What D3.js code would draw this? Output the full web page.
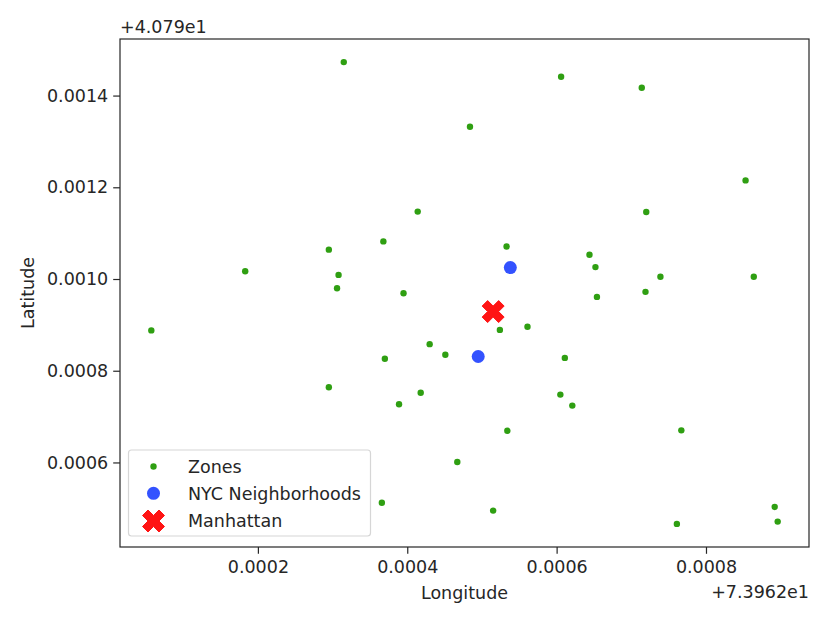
<!DOCTYPE html>
<html>
<head>
<meta charset="utf-8">
<script src="https://cdn.jsdelivr.net/npm/d3@7"></script>
<style>
  html, body { margin: 0; padding: 0; background: #fff; }
  svg text { font-family: "DejaVu Sans", sans-serif; fill: #262626; }
</style>
</head>
<body>
<svg id="chart" width="829" height="622"></svg>
<script>
// ---- Data (offsets from +73.962 for longitude, +40.79 for latitude) ----
const zoneLon = [0.000315, 0.000606, 0.000714, 0.000484, 0.000853, 0.000414, 0.000720, 0.000295,
  0.000368, 0.000533, 0.000183, 0.000308, 0.000644, 0.000652, 0.000306, 0.000395, 0.000739,
  0.000864, 0.000654, 0.000719, 0.0000573, 0.000524, 0.000561, 0.000430, 0.000451, 0.000370,
  0.000611, 0.000295, 0.000418, 0.000389, 0.000605, 0.000621, 0.000534, 0.000767, 0.000467,
  0.000366, 0.000515, 0.000761, 0.000892, 0.000896];
const zoneLat = [0.001473, 0.001441, 0.001417, 0.001332, 0.001215, 0.001147, 0.001146, 0.001064,
  0.001082, 0.001071, 0.001017, 0.001009, 0.001053, 0.001026, 0.000980, 0.000969, 0.001005,
  0.001005, 0.000961, 0.000972, 0.000888, 0.000889, 0.000896, 0.000858, 0.000835, 0.000826,
  0.000828, 0.000764, 0.000752, 0.000727, 0.000748, 0.000724, 0.000669, 0.000670, 0.000601,
  0.000512, 0.000495, 0.000466, 0.000503, 0.000471];
const hoodLon = [0.000538, 0.000495];
const hoodLat = [0.001025, 0.000831];
const manhattanLon = [0.000515];
const manhattanLat = [0.000929];
const xTicks = [0.0002, 0.0004, 0.0006, 0.0008];
const yTicks = [0.0006, 0.0008, 0.0010, 0.0012, 0.0014];
const xOffsetLabel = "+7.3962e1";
const yOffsetLabel = "+4.079e1";
const legendLabels = ["Zones", "NYC Neighborhoods", "Manhattan"];

// ---- Layout ----
const M = { left: 120, right: 809, top: 39, bottom: 547 };
const FS = 17.5;
const colors = { zone: "#2f9f12", hood: "#3352ff", man: "#ff1414" };

const svg = d3.select("#chart");

function padded(arr) {
  const mn = d3.min(arr), mx = d3.max(arr), p = (mx - mn) * 0.05;
  return [mn - p, mx + p];
}
const allLon = zoneLon.concat(hoodLon, manhattanLon);
const allLat = zoneLat.concat(hoodLat, manhattanLat);
const x = d3.scaleLinear().domain(padded(allLon)).range([M.left, M.right]);
const y = d3.scaleLinear().domain(padded(allLat)).range([M.bottom, M.top]);

// matplotlib filled 'X' marker
const xFilled = {
  draw(ctx, size) {
    const s = size / 4; // size = full width
    const pts = [[-1,-2],[0,-1],[1,-2],[2,-1],[1,0],[2,1],[1,2],[0,1],[-1,2],[-2,1],[-1,0],[-2,-1]];
    ctx.moveTo(pts[0][0]*s, pts[0][1]*s);
    for (let i = 1; i < pts.length; i++) ctx.lineTo(pts[i][0]*s, pts[i][1]*s);
    ctx.closePath();
  }
};

// ---- Axes ----
const fmt = d3.format(".4f");
const xAxis = d3.axisBottom(x).tickValues(xTicks).tickSize(6.8).tickPadding(6).tickFormat(fmt);
const yAxis = d3.axisLeft(y).tickValues(yTicks).tickSize(6.8).tickPadding(5).tickFormat(fmt);

const gx = svg.append("g").attr("transform", `translate(0,${M.bottom})`).call(xAxis);
const gy = svg.append("g").attr("transform", `translate(${M.left},0)`).call(yAxis);
[gx, gy].forEach(g => {
  g.select(".domain").remove();
  g.selectAll(".tick line").attr("stroke", "#262626").attr("stroke-width", 1.2);
  g.selectAll(".tick text").attr("font-size", FS).attr("font-family", "DejaVu Sans").attr("fill", "#262626");
});
gx.selectAll(".tick text").attr("dy", "0.78em");

// ---- Points ----
const plot = svg.append("g");
plot.selectAll("circle.zone").data(d3.range(zoneLon.length)).join("circle")
  .attr("class", "zone")
  .attr("cx", i => x(zoneLon[i])).attr("cy", i => y(zoneLat[i]))
  .attr("r", 3.2).attr("fill", colors.zone);

plot.selectAll("circle.hood").data(d3.range(hoodLon.length)).join("circle")
  .attr("class", "hood")
  .attr("cx", i => x(hoodLon[i])).attr("cy", i => y(hoodLat[i]))
  .attr("r", 6.5).attr("fill", colors.hood);

plot.selectAll("path.man").data(d3.range(manhattanLon.length)).join("path")
  .attr("class", "man")
  .attr("transform", i => `translate(${x(manhattanLon[i])},${y(manhattanLat[i])})`)
  .attr("d", d3.symbol().type(xFilled).size(22))
  .attr("fill", colors.man).attr("stroke", colors.man).attr("stroke-width", 1).attr("stroke-linejoin", "round");

// ---- Frame ----
svg.append("rect")
  .attr("x", M.left).attr("y", M.top)
  .attr("width", M.right - M.left).attr("height", M.bottom - M.top)
  .attr("fill", "none").attr("stroke", "#262626").attr("stroke-width", 1.2);

// ---- Labels ----
svg.append("text").attr("x", (M.left + M.right) / 2).attr("y", 599)
  .attr("text-anchor", "middle").attr("font-size", FS).text("Longitude");
svg.append("text")
  .attr("transform", `translate(34,${(M.top + M.bottom) / 2}) rotate(-90)`)
  .attr("text-anchor", "middle").attr("font-size", FS).text("Latitude");
svg.append("text").attr("x", M.right).attr("y", 598)
  .attr("text-anchor", "end").attr("font-size", FS).text(xOffsetLabel);
svg.append("text").attr("x", M.left).attr("y", 33)
  .attr("text-anchor", "start").attr("font-size", FS).text(yOffsetLabel);

// ---- Legend ----
const lg = svg.append("g");
lg.append("rect").attr("x", 128.5).attr("y", 450).attr("width", 242).attr("height", 86)
  .attr("rx", 3).attr("fill", "#fff").attr("fill-opacity", 0.8)
  .attr("stroke", "#d6d6d6").attr("stroke-width", 1.2);
const rowY = [466.5, 493.3, 521];
const lx = 153.5;
lg.append("circle").attr("cx", lx).attr("cy", rowY[0]).attr("r", 3.2).attr("fill", colors.zone);
lg.append("circle").attr("cx", lx).attr("cy", rowY[1]).attr("r", 6.5).attr("fill", colors.hood);
lg.append("path").attr("transform", `translate(${lx},${rowY[2]})`)
  .attr("d", d3.symbol().type(xFilled).size(22))
  .attr("fill", colors.man).attr("stroke", colors.man).attr("stroke-width", 1).attr("stroke-linejoin", "round");
legendLabels.forEach((t, i) => {
  lg.append("text").attr("x", 188).attr("y", rowY[i]).attr("dy", "0.36em")
    .attr("font-size", FS).text(t);
});
</script>
</body>
</html>
